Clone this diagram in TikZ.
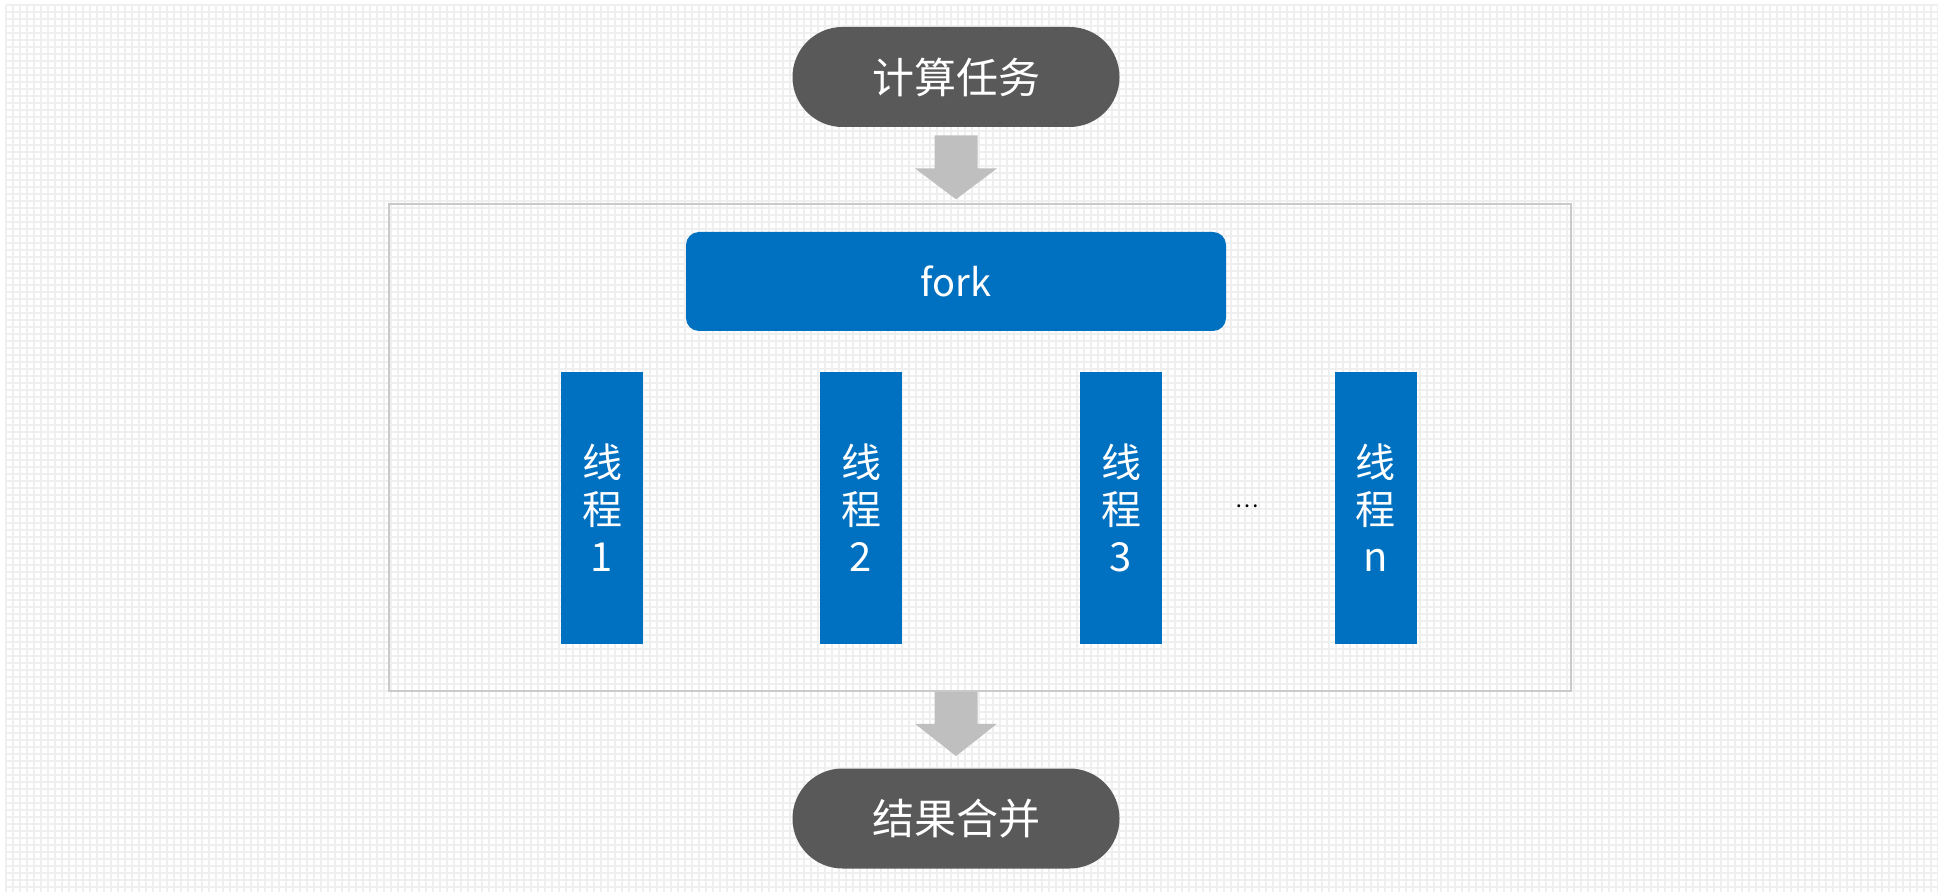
\documentclass[tikz,border=0pt]{standalone}
\usepackage{fontspec}
\setmainfont{Noto Sans CJK SC}
\usetikzlibrary{calc}
\definecolor{pillgray}{HTML}{595959}
\definecolor{forkblue}{HTML}{0070C0}
\definecolor{arrowgray}{HTML}{BFBFBF}
\definecolor{gridline}{HTML}{EFEFEF}
\definecolor{boxline}{HTML}{CACACA}
\tikzset{
  pill/.style={fill=pillgray, text=white, rounded corners=25pt, minimum width=163.5pt, minimum height=50pt, inner sep=0pt, font=\fontsize{21pt}{25pt}\selectfont},
  forkbox/.style={fill=forkblue, text=white, rounded corners=6.5pt, minimum width=270pt, minimum height=49.5pt, inner sep=0pt, font=\fontsize{19pt}{23pt}\selectfont},
  threadbar/.style={fill=forkblue, text=white, minimum width=41pt, minimum height=136pt, inner sep=0pt, align=center, font=\fontsize{20pt}{23.5pt}\selectfont},
  container/.style={draw=boxline, line width=0.75pt, minimum width=591pt, minimum height=243.5pt, inner sep=0pt},
  arrowfill/.style={fill=arrowgray},
}
\begin{document}
\begin{tikzpicture}[x=0.5pt, y=-0.5pt]
\useasboundingbox (0,0) rectangle (1938,892);
\fill[white] (0,0) rectangle (1938,892);
% background grid
\foreach \i in {0,...,276} {\draw[gridline, line width=1pt] ({6+7*\i},5) -- ({6+7*\i},892);}
\foreach \j in {0,...,127} {\draw[gridline, line width=1pt] (6,{5+7*\j}) -- (1938,{5+7*\j});}

\node[container] (box) at (980,447.5) {};
\node[pill] (task) at (956,77) {计算任务};
\node[pill] (merge) at (956,818.5) {结果合并};
\node[forkbox] (fork) at (956,281.5) {fork};
\node[threadbar] (t1) at (602,508) {线\\程\\1};
\node[threadbar] (t2) at (861,508) {线\\程\\2};
\node[threadbar] (t3) at (1121,508) {线\\程\\3};
\node[threadbar] (tn) at (1375.5,508) {线\\程\\n};
\node[font=\fontsize{11pt}{13pt}\selectfont, inner sep=0pt] (dots) at (1247,506) {…};

% top arrow
\fill[arrowfill] ($(task.south)+(-21.5,8)$) -- ($(task.south)+(21.5,8)$) -- ($(task.south)+(21.5,41)$) -- ($(task.south)+(41,41)$) -- ($(box.north -| task.south)+(0,-4)$) -- ($(task.south)+(-41,41)$) -- ($(task.south)+(-21.5,41)$) -- cycle;
% bottom arrow
\fill[arrowfill] ($(box.south -| merge.north)+(-21.5,0)$) -- ($(box.south -| merge.north)+(21.5,0)$) -- ($(box.south -| merge.north)+(21.5,32)$) -- ($(box.south -| merge.north)+(41,32)$) -- ($(merge.north)+(0,-12)$) -- ($(box.south -| merge.north)+(-41,32)$) -- ($(box.south -| merge.north)+(-21.5,32)$) -- cycle;
\end{tikzpicture}
\end{document}
